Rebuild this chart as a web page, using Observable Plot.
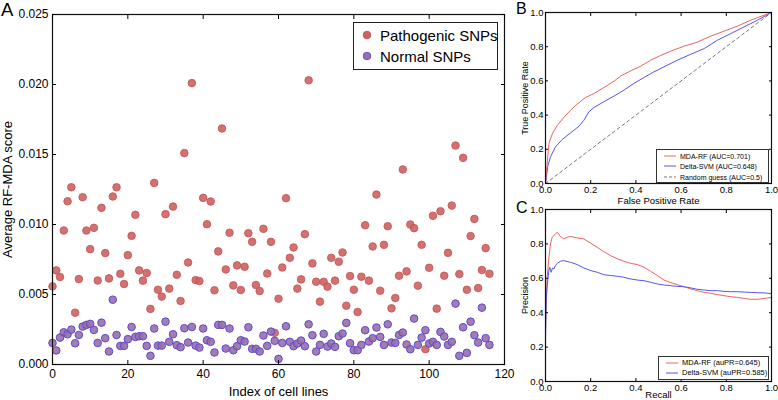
<!DOCTYPE html>
<html><head><meta charset="utf-8">
<script src="https://cdn.jsdelivr.net/npm/d3@7"></script>
<script src="https://cdn.jsdelivr.net/npm/@observablehq/plot@0.6"></script>
<style>
body{margin:0;background:#fff;font-family:"Liberation Sans",Arial,sans-serif;}
#wrap{position:relative;width:778px;height:400px;overflow:hidden;background:#fff;}
.panel{position:absolute;}
.plab{position:absolute;color:#000;line-height:1;}
.legend{position:absolute;border:1px solid #222;background:#fff;box-sizing:border-box;}
.row{position:absolute;white-space:nowrap;line-height:1;}
</style></head><body><div id="wrap"></div>
<script>
// ---------- Panel A data ----------
const pathogenicSNPs = [
0.00558,0.00672,0.00625,0.00957,0.01166,0.01266,0.00370,0.00610,0.01195,0.00957,
0.00824,0.00976,0.00600,0.01119,0.00796,0.00615,0.01200,0.01266,0.00648,0.00575,
0.00781,0.00919,0.01069,0.00672,0.00599,0.00653,0.00397,0.01297,0.00534,0.00485,
0.01074,0.00542,0.01128,0.00641,0.00454,0.01510,0.00729,0.02010,0.00603,0.00596,
0.01190,0.01002,0.01164,0.00530,0.00808,0.01686,0.00679,0.00941,0.00565,0.00708,
0.00532,0.00698,0.00938,0.00876,0.00568,0.00525,0.00969,0.00650,0.00876,0.00226,
0.00470,0.00693,0.01188,0.00762,0.00836,0.00542,0.00608,0.00931,0.02030,0.00722,
0.00591,0.00449,0.00591,0.00556,0.00762,0.00599,0.00734,0.00800,0.00420,0.00632,
0.00534,0.00375,0.00627,0.00995,0.00599,0.00843,0.01214,0.00527,0.00855,0.00988,
0.00401,0.00475,0.00634,0.01393,0.00665,0.01000,0.00974,0.00563,0.00855,0.00109,
0.00691,0.01062,0.00399,0.01095,0.00634,0.00798,0.01135,0.01564,0.00646,0.01476,
0.00534,0.00917,0.01040,0.00546,0.00675,0.00831,0.00648];
const normalSNPs = [
0.00154,0.00100,0.00192,0.00230,0.00216,0.00249,0.00152,0.00211,0.00271,0.00283,
0.00290,0.00247,0.00154,0.00299,0.00188,0.00093,0.00463,0.00211,0.00133,0.00133,
0.00181,0.00268,0.00197,0.00202,0.00202,0.00133,0.00062,0.00257,0.00135,0.00135,
0.00306,0.00162,0.00216,0.00138,0.00124,0.00259,0.00157,0.00268,0.00135,0.00121,
0.00257,0.00173,0.00162,0.00086,0.00283,0.00283,0.00114,0.00257,0.00102,0.00131,
0.00173,0.00164,0.00266,0.00112,0.00112,0.00093,0.00207,0.00133,0.00235,0.00169,
0.00040,0.00154,0.00273,0.00162,0.00131,0.00150,0.00171,0.00131,0.00287,0.00209,
0.00093,0.00140,0.00219,0.00128,0.00150,0.00126,0.00202,0.00221,0.00297,0.00152,
0.00102,0.00102,0.00140,0.00245,0.00164,0.00188,0.00264,0.00197,0.00140,0.00287,
0.00157,0.00154,0.00211,0.00228,0.00143,0.00109,0.00328,0.00140,0.00192,0.00245,
0.00150,0.00162,0.00140,0.00233,0.00200,0.00140,0.00162,0.00435,0.00062,0.00266,
0.00083,0.00306,0.00209,0.00157,0.00406,0.00188,0.00140];
const xTicksA = [0, 20, 40, 60, 80, 100, 120];
const yTicksA = [0, 0.005, 0.010, 0.015, 0.020, 0.025];
const seriesA = ["Pathogenic SNPs", "Normal SNPs"];

// ---------- Panel B data (ROC) ----------
const rocFprRF = [0,0.015,0.03,0.052,0.081,0.111,0.14,0.177,0.214,0.258,0.303,0.332,0.377,0.421,0.465,0.51,0.554,0.613,0.672,0.731,0.79,0.849,0.908,0.967,1];
const rocTprRF = [0,0.234,0.29,0.34,0.386,0.429,0.464,0.503,0.526,0.561,0.598,0.628,0.659,0.686,0.721,0.749,0.774,0.803,0.827,0.862,0.891,0.92,0.955,0.984,1];
const rocFprSVM = [0,0.01,0.022,0.044,0.074,0.111,0.148,0.17,0.192,0.214,0.258,0.303,0.347,0.391,0.436,0.48,0.524,0.583,0.643,0.702,0.761,0.82,0.879,0.938,1];
const rocTprSVM = [0,0.1,0.156,0.214,0.257,0.296,0.335,0.37,0.419,0.444,0.478,0.511,0.546,0.585,0.62,0.653,0.682,0.721,0.756,0.789,0.838,0.877,0.916,0.955,1];
const randomGuess = [0, 1];
const rocLabels = ["MDA-RF (AUC=0.701)", "Delta-SVM (AUC=0.648)", "Random guess (AUC=0.5)"];

// ---------- Panel C data (PR) ----------
const prRecRF = [0,0.003,0.007,0.015,0.022,0.03,0.044,0.052,0.066,0.081,0.096,0.111,0.14,0.17,0.2,0.229,0.258,0.288,0.318,0.347,0.377,0.406,0.436,0.465,0.495,0.524,0.554,0.583,0.613,0.643,0.672,0.702,0.731,0.761,0.79,0.82,0.849,0.879,0.908,0.938,0.967,1];
const prPrecRF = [0.3,0.43,0.6,0.72,0.8,0.84,0.858,0.868,0.843,0.829,0.839,0.843,0.835,0.829,0.804,0.78,0.755,0.732,0.713,0.699,0.687,0.68,0.664,0.641,0.616,0.59,0.575,0.563,0.551,0.538,0.528,0.518,0.513,0.505,0.499,0.493,0.489,0.483,0.478,0.478,0.483,0.489];
const prRecSVM = [0,0.003,0.007,0.015,0.019,0.025,0.031,0.037,0.044,0.052,0.066,0.081,0.096,0.111,0.14,0.17,0.2,0.229,0.258,0.288,0.318,0.347,0.377,0.406,0.436,0.465,0.495,0.524,0.554,0.583,0.613,0.643,0.672,0.702,0.731,0.761,0.79,0.82,0.849,0.879,0.908,0.938,0.967,1];
const prPrecSVM = [0.24,0.47,0.55,0.645,0.664,0.635,0.66,0.654,0.674,0.687,0.699,0.703,0.697,0.693,0.68,0.66,0.645,0.635,0.621,0.616,0.612,0.606,0.596,0.59,0.586,0.577,0.567,0.561,0.557,0.553,0.551,0.544,0.536,0.532,0.528,0.528,0.524,0.522,0.522,0.52,0.518,0.516,0.515,0.511];
const prLabels = ["MDA-RF (auPR=0.645)", "Delta-SVM (auPR=0.585)"];
const xTicksUnit = [0, 0.2, 0.4, 0.6, 0.8, 1.0];
const yTicksUnit = [0, 0.2, 0.4, 0.6, 0.8, 1.0];

// ---------- styles ----------
const RED = "#cc6262", REDEDGE = "#c65050";
const PUR = "#9a6ea8", PUREDGE = "#5a4cd2";
const LRED = "#f06262", LBLUE = "#5656e8";
const FONT = "Liberation Sans, Arial, sans-serif";

const wrap = document.getElementById("wrap");
function place(node, left, top) {
  node.classList.add("panel");
  node.style.left = left + "px"; node.style.top = top + "px";
  wrap.appendChild(node);
}
function txt(s, left, top, size) {
  const d = document.createElement("div");
  d.className = "plab"; d.textContent = s;
  d.style.left = left + "px"; d.style.top = top + "px"; d.style.fontSize = size + "px";
  wrap.appendChild(d); return d;
}
function pairs(xs, ys) { return xs.map((x, i) => ({x, y: ys[i]})); }
function frameAxes(xt, yt, fmtX, fmtY, fs, tk, padX, padY) {
  const blank = () => "";
  return [
    Plot.frame({stroke: "#111", strokeWidth: 1.2}),
    Plot.axisX(xt.slice(), {anchor: "bottom", tickSize: -tk, tickFormat: blank, label: null}),
    Plot.axisX(xt.slice(), {anchor: "top", tickSize: -tk, tickFormat: blank, label: null}),
    Plot.axisY(yt.slice(), {anchor: "left", tickSize: -tk, tickFormat: blank, label: null}),
    Plot.axisY(yt.slice(), {anchor: "right", tickSize: -tk, tickFormat: blank, label: null}),
    Plot.text(xt, {x: d => d, frameAnchor: "bottom", lineAnchor: "top", dy: padX, text: fmtX, fontSize: fs, fill: "#000"}),
    Plot.text(yt, {y: d => d, frameAnchor: "left", textAnchor: "end", dx: -padY, text: fmtY, fontSize: fs, fill: "#000"})
  ];
}

// ---------- Panel A ----------
const plotA = Plot.plot({
  width: 515, height: 400,
  marginLeft: 52, marginRight: 11, marginTop: 14, marginBottom: 36,
  style: {fontFamily: FONT, color: "#000", background: "transparent", overflow: "visible"},
  x: {domain: [0, 120], axis: null},
  y: {domain: [0, 0.025], axis: null},
  marks: [
    Plot.dot(pathogenicSNPs, {x: (d, i) => i, y: d => d, r: 3.8, fill: RED, fillOpacity: 0.9, stroke: REDEDGE, strokeWidth: 0.8}),
    Plot.dot(normalSNPs, {x: (d, i) => i, y: d => d, r: 3.8, fill: PUR, fillOpacity: 0.9, stroke: PUREDGE, strokeWidth: 1}),
    ...frameAxes(xTicksA, yTicksA, d3.format("d"), d3.format(".3f"), 12, 4, 5, 4),
    Plot.text(["Index of cell lines"], {frameAnchor: "bottom", dy: 27, fontSize: 13, lineAnchor: "middle", textAnchor: "middle"}),
    Plot.text(["Average RF-MDA score"], {frameAnchor: "left", dx: -45, rotate: -90, fontSize: 13, textAnchor: "middle", lineAnchor: "middle"})
  ]
});
place(plotA, 0, 0);

// Legend A
const legA = document.createElement("div");
legA.className = "legend";
Object.assign(legA.style, {left: "353px", top: "22px", width: "145px", height: "48px"});
wrap.appendChild(legA);
[[seriesA[0], RED, REDEDGE], [seriesA[1], PUR, PUREDGE]].forEach(([name, f, s], i) => {
  const r = document.createElement("div");
  r.className = "row";
  r.style.left = "6px"; r.style.top = (3 + i * 21) + "px"; r.style.fontSize = "15px";
  r.innerHTML = `<svg width="14" height="16" style="vertical-align:middle;margin-right:6px"><circle cx="7" cy="8" r="3.8" fill="${f}" stroke="${s}" stroke-width="0.9"/></svg><span style="vertical-align:middle">${name}</span>`;
  legA.appendChild(r);
});

// ---------- Panel B ----------
const rocRF = pairs(rocFprRF, rocTprRF), rocSVM = pairs(rocFprSVM, rocTprSVM);
const plotB = Plot.plot({
  width: 263, height: 200,
  marginLeft: 30, marginRight: 7, marginTop: 12, marginBottom: 17,
  style: {fontFamily: FONT, color: "#000", background: "transparent", overflow: "visible"},
  x: {domain: [0, 1], axis: null},
  y: {domain: [0, 1], axis: null},
  marks: [
    Plot.line(randomGuess.map(v => ({x: v, y: v})), {x: "x", y: "y", stroke: "#777", strokeWidth: 1, strokeDasharray: "3,3"}),
    Plot.line(rocSVM, {x: "x", y: "y", stroke: LBLUE, strokeWidth: 1}),
    Plot.line(rocRF, {x: "x", y: "y", stroke: LRED, strokeWidth: 1}),
    ...frameAxes(xTicksUnit, yTicksUnit, d3.format(".1f"), d3.format(".1f"), 9.5, 3, 3, 2),
    Plot.text(["False Positive Rate"], {frameAnchor: "bottom", dy: 17, fontSize: 9.5, lineAnchor: "middle", textAnchor: "middle"}),
    Plot.text(["True Positive Rate"], {frameAnchor: "left", dx: -20, rotate: -90, fontSize: 9, textAnchor: "middle", lineAnchor: "middle"})
  ]
});
place(plotB, 515, 0);

// ---------- Panel C ----------
const prRF = pairs(prRecRF, prPrecRF), prSVM = pairs(prRecSVM, prPrecSVM);
const plotC = Plot.plot({
  width: 263, height: 200,
  marginLeft: 30, marginRight: 7, marginTop: 9, marginBottom: 19,
  style: {fontFamily: FONT, color: "#000", background: "transparent", overflow: "visible"},
  x: {domain: [0, 1], axis: null},
  y: {domain: [0, 1], axis: null},
  marks: [
    Plot.line(prRF, {x: "x", y: "y", stroke: LRED, strokeWidth: 1}),
    Plot.line(prSVM, {x: "x", y: "y", stroke: LBLUE, strokeWidth: 1}),
    ...frameAxes(xTicksUnit, yTicksUnit, d3.format(".1f"), d3.format(".1f"), 9.5, 3, 3, 2),
    Plot.text(["Recall"], {frameAnchor: "bottom", dy: 13.5, fontSize: 9.5, lineAnchor: "middle", textAnchor: "middle"}),
    Plot.text(["Precision"], {frameAnchor: "left", dx: -20, rotate: -90, fontSize: 9, textAnchor: "middle", lineAnchor: "middle"})
  ]
});
place(plotC, 515, 200);

// Legends B and C
function lineLegend(left, top, w, h, items, rowGap, fs) {
  const lg = document.createElement("div");
  lg.className = "legend";
  Object.assign(lg.style, {left: left + "px", top: top + "px", width: w + "px", height: h + "px", borderColor: "#333"});
  wrap.appendChild(lg);
  items.forEach(([name, color, dash], i) => {
    const r = document.createElement("div");
    r.className = "row";
    r.style.left = "6px"; r.style.top = (2 + i * rowGap) + "px"; r.style.fontSize = fs + "px";
    r.innerHTML = `<svg width="14" height="8" style="vertical-align:middle;margin-right:3px"><line x1="1" x2="13" y1="4" y2="4" stroke="${color}" stroke-width="1" ${dash ? 'stroke-dasharray="3,2"' : ""}/></svg><span style="vertical-align:middle">${name}</span>`;
    lg.appendChild(r);
  });
}
lineLegend(656, 149, 113, 34, [[rocLabels[0], LRED], [rocLabels[1], LBLUE], [rocLabels[2], "#777", true]], 10.3, 7);
lineLegend(658, 356, 111, 24, [[prLabels[0], LRED], [prLabels[1], LBLUE]], 10.3, 7.5);

// Panel letters
txt("A", 1, 1, 18.5);
txt("B", 516, 1, 16);
txt("C", 516, 200, 16);
</script></body></html>
